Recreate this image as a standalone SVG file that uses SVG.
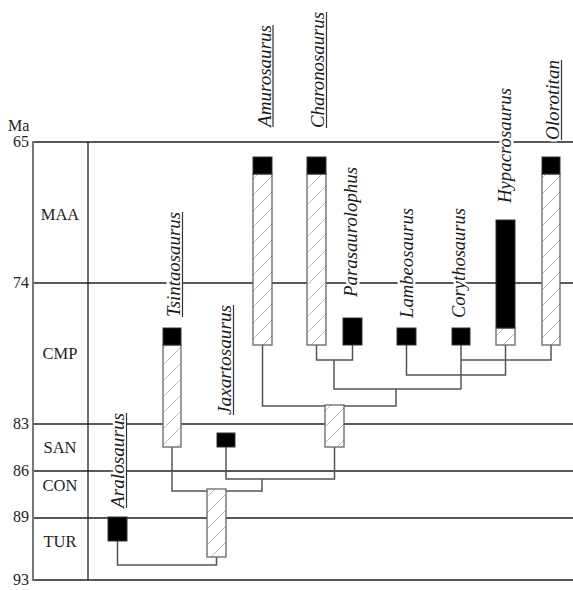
<svg xmlns="http://www.w3.org/2000/svg" width="573" height="590" viewBox="0 0 573 590">
<style>
.ax{font-family:"Liberation Serif","Times New Roman",serif;font-size:16px;fill:#222}
.st{font-family:"Liberation Serif","Times New Roman",serif;font-size:16.5px;fill:#222;text-anchor:middle}
.tx{font-family:"Liberation Serif","Times New Roman",serif;font-size:18.5px;font-style:italic;fill:#1a1a1a;stroke:#fff;stroke-width:5;paint-order:stroke;stroke-linejoin:round}
.ul{stroke:#333;stroke-width:1.2}
.tl{stroke:#222;stroke-width:1.3;fill:none}
.cn{stroke:#555;stroke-width:1.5;fill:none}
.blk{fill:#000;stroke:#333;stroke-width:1}
.gh{fill:url(#hatch);stroke:#666;stroke-width:1.3}
</style>
<defs>
<pattern id="hatch" patternUnits="userSpaceOnUse" width="16" height="16">
<rect width="16" height="16" fill="#fff"/>
<path d="M-4,20 L20,-4" stroke="#bdbdbd" stroke-width="1"/>
</pattern>
</defs>
<rect width="573" height="590" fill="#fff"/>
<g id="timescale">
<line class="tl" x1="33" y1="142" x2="573" y2="142"/>
<line class="tl" x1="33" y1="283" x2="573" y2="283"/>
<line class="tl" x1="33" y1="424" x2="573" y2="424"/>
<line class="tl" x1="33" y1="471" x2="573" y2="471"/>
<line class="tl" x1="33" y1="518" x2="573" y2="518"/>
<line class="tl" x1="33" y1="580" x2="573" y2="580"/>
<line x1="33" y1="141" x2="33" y2="581" stroke="#777" stroke-width="2"/>
<line class="tl" x1="88" y1="142" x2="88" y2="580"/>
<text class="ax" x="8" y="131">Ma</text>
<text class="ax" x="29" y="147" text-anchor="end">65</text>
<text class="ax" x="29" y="288" text-anchor="end">74</text>
<text class="ax" x="29" y="429" text-anchor="end">83</text>
<text class="ax" x="29" y="476" text-anchor="end">86</text>
<text class="ax" x="29" y="522" text-anchor="end">89</text>
<text class="ax" x="29" y="585" text-anchor="end">93</text>
<text class="st" x="60" y="220">MAA</text>
<text class="st" x="60" y="359">CMP</text>
<text class="st" x="60" y="453">SAN</text>
<text class="st" x="60" y="491">CON</text>
<text class="st" x="60" y="547">TUR</text>
</g>
<g id="connectors">
<path class="cn" d="M117.5,541 V565 H216.5 V557"/>
<path class="cn" d="M172,447 V491 H262 V479"/>
<path class="cn" d="M226,447 V479 H334.5 V447"/>
<path class="cn" d="M262.5,345 V406 H396 V389"/>
<path class="cn" d="M334,360 V389 H461"/>
<path class="cn" d="M316.5,345 V360 H352.5 V345"/>
<path class="cn" d="M461,345 V389"/>
<path class="cn" d="M461,360 H551 V345"/>
<path class="cn" d="M406.5,345 V375 H505.5 V345"/>
</g>
<g id="ghost-base">
<rect class="gh" x="207" y="489" width="19" height="68"/>
</g>
<g id="ghost-lambeosaurini">
<rect class="gh" x="325" y="405" width="19" height="42"/>
</g>
<g id="Aralosaurus">
<rect class="blk" x="108" y="517" width="19" height="24"/>
<g transform="translate(124,508) rotate(-90)">
<text class="tx" textLength="95" lengthAdjust="spacingAndGlyphs">Aralosaurus</text>
<line class="ul" x1="0" y1="2.5" x2="95" y2="2.5"/>
</g>
</g>
<g id="Tsintaosaurus">
<rect class="gh" x="163" y="345" width="18" height="102"/>
<rect class="blk" x="163" y="328" width="18" height="17"/>
<g transform="translate(180,317) rotate(-90)">
<text class="tx" textLength="105" lengthAdjust="spacingAndGlyphs">Tsintaosaurus</text>
<line class="ul" x1="0" y1="2.5" x2="105" y2="2.5"/>
</g>
</g>
<g id="Jaxartosaurus">
<rect class="blk" x="217" y="433" width="18" height="14"/>
<g transform="translate(231,415) rotate(-90)">
<text class="tx" textLength="110" lengthAdjust="spacingAndGlyphs">Jaxartosaurus</text>
<line class="ul" x1="0" y1="2.5" x2="110" y2="2.5"/>
</g>
</g>
<g id="Amurosaurus">
<rect class="gh" x="253" y="174" width="19" height="171"/>
<rect class="blk" x="253" y="157" width="19" height="17"/>
<g transform="translate(270.5,127) rotate(-90)">
<text class="tx" textLength="102" lengthAdjust="spacingAndGlyphs">Amurosaurus</text>
<line class="ul" x1="0" y1="2.5" x2="102" y2="2.5"/>
</g>
</g>
<g id="Charonosaurus">
<rect class="gh" x="307" y="174" width="19" height="171"/>
<rect class="blk" x="307" y="157" width="19" height="17"/>
<g transform="translate(324,128) rotate(-90)">
<text class="tx" textLength="116" lengthAdjust="spacingAndGlyphs">Charonosaurus</text>
<line class="ul" x1="0" y1="2.5" x2="116" y2="2.5"/>
</g>
</g>
<g id="Parasaurolophus">
<rect class="blk" x="343" y="318" width="19" height="27"/>
<text class="tx" transform="translate(357,297) rotate(-90)" textLength="130" lengthAdjust="spacingAndGlyphs">Parasaurolophus</text>
</g>
<g id="Lambeosaurus">
<rect class="blk" x="397" y="328" width="19" height="17"/>
<text class="tx" transform="translate(412.5,318) rotate(-90)" textLength="110" lengthAdjust="spacingAndGlyphs">Lambeosaurus</text>
</g>
<g id="Corythosaurus">
<rect class="blk" x="452" y="328" width="18" height="17"/>
<text class="tx" transform="translate(465,318) rotate(-90)" textLength="110" lengthAdjust="spacingAndGlyphs">Corythosaurus</text>
</g>
<g id="Hypacrosaurus">
<rect class="gh" x="496" y="328" width="19" height="17"/>
<rect class="blk" x="496" y="220" width="19" height="108"/>
<text class="tx" transform="translate(511,203) rotate(-90)" textLength="115" lengthAdjust="spacingAndGlyphs">Hypacrosaurus</text>
</g>
<g id="Olorotitan">
<rect class="gh" x="542" y="174" width="18" height="171"/>
<rect class="blk" x="542" y="157" width="18" height="17"/>
<g transform="translate(559,140) rotate(-90)">
<text class="tx" textLength="80" lengthAdjust="spacingAndGlyphs">Olorotitan</text>
<line class="ul" x1="0" y1="2.5" x2="80" y2="2.5"/>
</g>
</g>
</svg>
